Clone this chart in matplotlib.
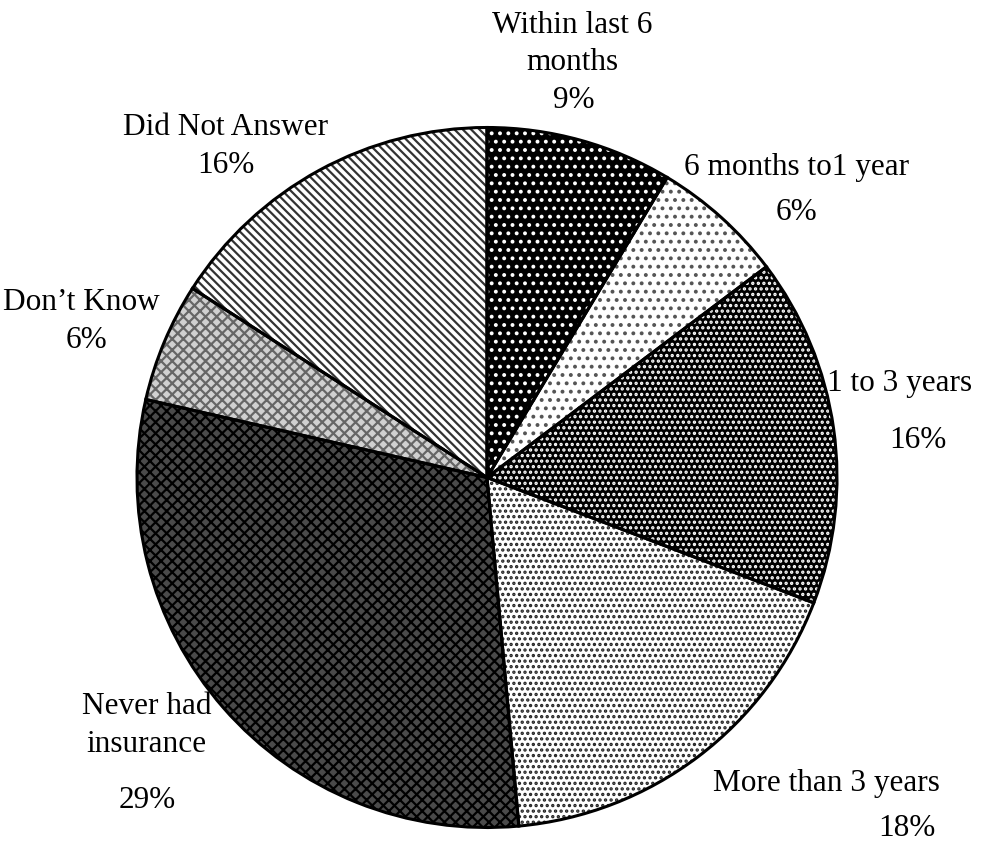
import matplotlib.pyplot as plt

categories = ["Within last 6 months", "6 months to1 year", "1 to 3 years",
              "More than 3 years", "Never had insurance", "Don\u2019t Know",
              "Did Not Answer"]
shares = [8.6, 6.1, 16.1, 17.7, 30.0, 5.5, 15.9]
pct_labels = ["9%", "6%", "16%", "18%", "29%", "6%", "16%"]

# lines of each label as they are broken in the picture
label_lines = [
    ["Within last 6", "months", pct_labels[0]],
    ["6 months to1 year", pct_labels[1]],
    ["1 to 3 years", pct_labels[2]],
    ["More than 3 years", pct_labels[3]],
    ["Never had", "insurance", pct_labels[4]],
    ["Don\u2019t Know", pct_labels[5]],
    ["Did Not Answer", pct_labels[6]],
]

# layout (pixels, y from top) for each text line
line_pos = [
    [(572, 25), (572, 62), (574, 100)],
    [(797, 167), (797, 212)],
    [(900, 383), (918, 441)],
    [(826, 784), (907, 829)],
    [(147, 706), (146, 745), (147, 800)],
    [(81, 302), (87, 340)],
    [(226, 127), (226, 165)],
]

# fill style of each slice: face colour, hatch, hatch colour
styles = [
    ("black", "..", "white"),
    ("white", "..", "#555555"),
    ("black", "...", "white"),
    ("white", "...", "#222222"),
    ("#4a4a4a", "xxx", "black"),
    ("#d0d0d0", "xxx", "#666666"),
    ("white", "\\\\\\\\", "#333333"),
]

W, H = 1003, 850
plt.rcParams["hatch.linewidth"] = 1.6
fig = plt.figure(figsize=(W / 100, H / 100), dpi=100)
ax = fig.add_axes([0, 0, 1, 1])

cx, cy, r = 487, H - 477.5, 350

wedges, _ = ax.pie(shares, startangle=90, counterclock=False,
                   center=(cx, cy), radius=r)
for w, (fc, hatch, hc) in zip(wedges, styles):
    w.set_facecolor(fc)
    w.set_hatch(hatch)
    w.set_edgecolor(hc)
    w.set_linewidth(0)

# outlines on top
outl, _ = ax.pie(shares, startangle=90, counterclock=False,
                 center=(cx, cy), radius=r,
                 wedgeprops=dict(facecolor="none", edgecolor="black",
                                 linewidth=2.2))

for lines, poss in zip(label_lines, line_pos):
    for txt, (x, y) in zip(lines, poss):
        ax.text(x, H - y, txt, ha="center", va="center", fontsize=22.5,
                family="Liberation Serif")

ax.set_xlim(0, W)
ax.set_ylim(0, H)
ax.set_aspect("equal")
ax.axis("off")

fig.savefig("out.png", dpi=100)
